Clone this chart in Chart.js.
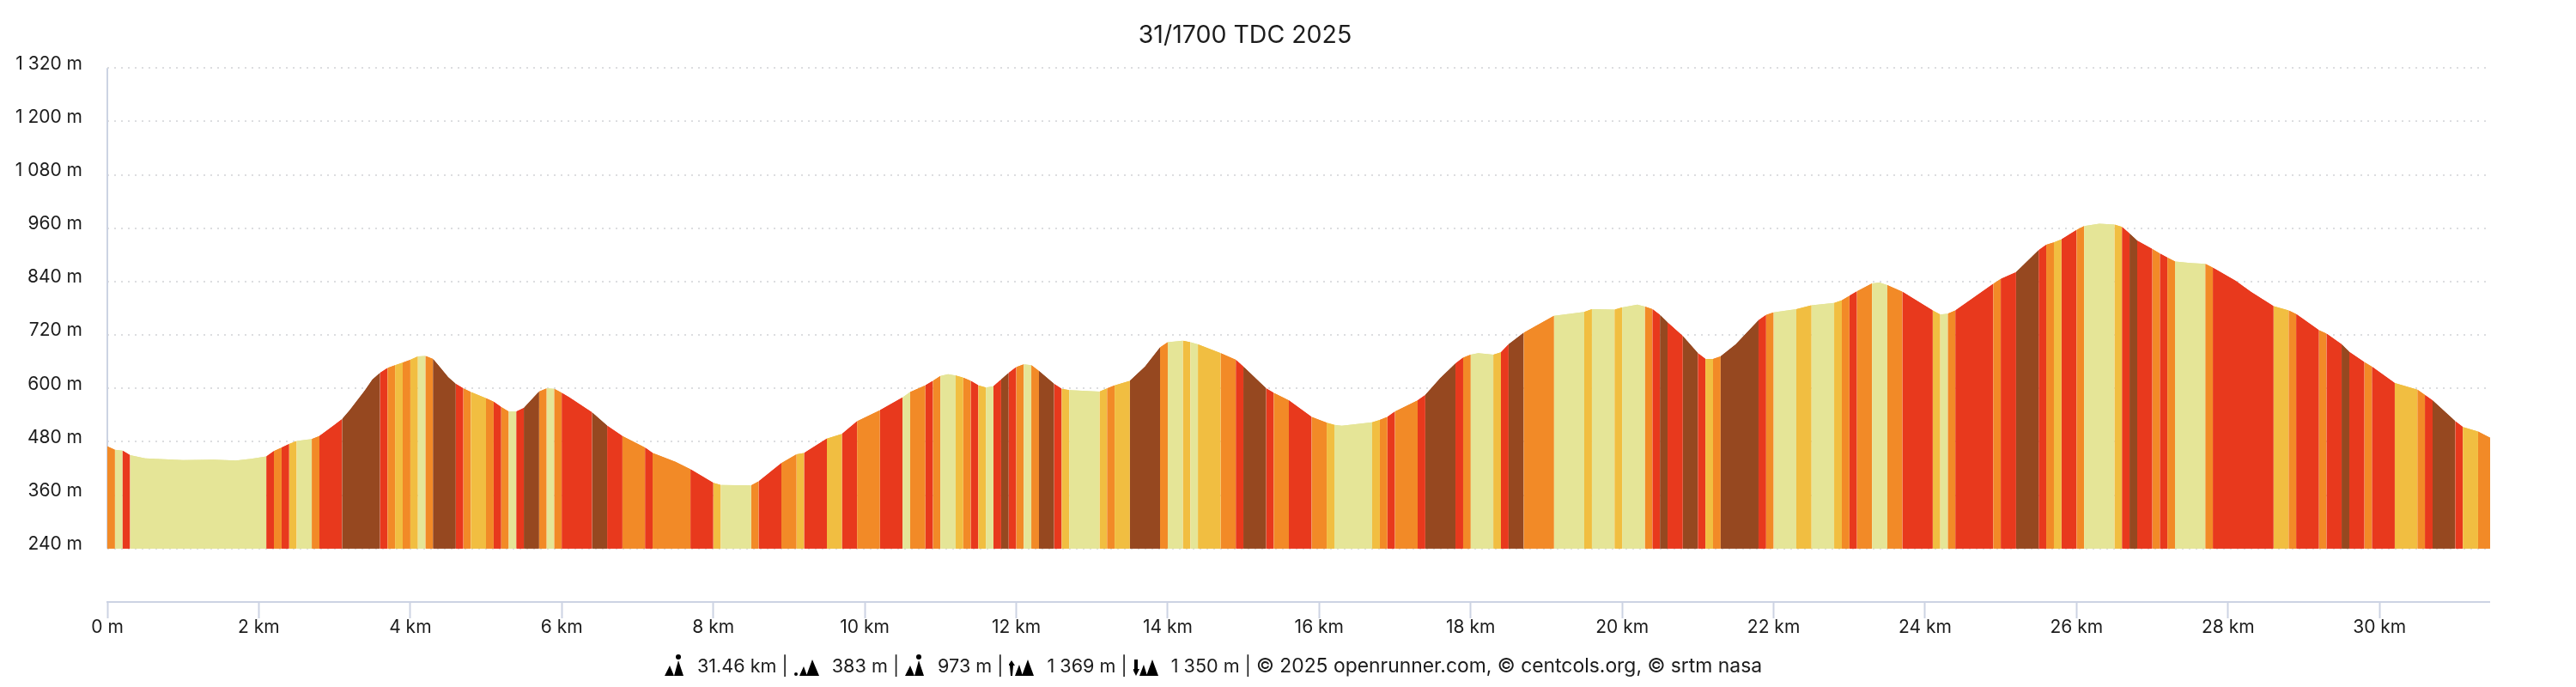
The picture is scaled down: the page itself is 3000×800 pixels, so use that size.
<!DOCTYPE html>
<html>
<head>
<meta charset="utf-8">
<title>31/1700 TDC 2025</title>
<script src="https://cdn.jsdelivr.net/npm/chart.js@4"></script>
<style>
  html, body { margin: 0; background: #fff; }
  #wrap { position: relative; width: 2900px; height: 800px; }
  #footer {
    position: absolute; left: 774px; top: 760px; height: 30px; white-space: nowrap;
    display: flex; align-items: center;
    font: 21.6px Inter, sans-serif; color: #1c1c1c;
  }
  #footer svg { flex: none; fill: #000; margin: 0 14px 0 7px; }
  #footer svg:first-child { margin-left: 0; }
  #footer .credits { font-size: 22.9px; margin-left: 6px; }
</style>
</head>
<body>
<div id="wrap">
  <canvas id="profile"></canvas>
  <div id="footer">
    <svg width="24" height="26" viewBox="0 0 24 26"><circle cx="16" cy="3" r="3"/><path d="M0 25 6 13l5 12zM11 25 16 7l6 18z"/></svg><span>31.46 km |</span>
    <svg width="30" height="26" viewBox="0 0 30 26"><circle cx="2" cy="23" r="2"/><path d="M6 25l5-11 4 11zM14 25 21 6l8 19z"/></svg><span>383 m |</span>
    <svg width="24" height="26" viewBox="0 0 24 26"><circle cx="16" cy="3" r="3"/><path d="M0 25 6 13l5 12zM11 25 16 7l6 18z"/></svg><span>973 m |</span>
    <svg width="30" height="26" viewBox="0 0 30 26"><path d="M3 7 7 13H5l-1 12H2L1 13H-1zM7 25l5-13 4 13zM15 25 22 6l7 19z"/></svg><span>1 369 m |</span>
    <svg width="30" height="26" viewBox="0 0 30 26"><path d="M3 25-1 17h2V6h4v11h2zM7 25l5-13 4 13zM15 25 22 6l7 19z"/></svg><span>1 350 m |</span>
    <span class="credits">© 2025 openrunner.com, © centcols.org, © srtm nasa</span>
  </div>
</div>
<script>
const titleText = '31/1700 TDC 2025';
const yTicks = [240, 360, 480, 600, 720, 840, 960, 1080, 1200, 1320];
const yTickLabels = ['240 m', '360 m', '480 m', '600 m', '720 m', '840 m', '960 m', '1 080 m', '1 200 m', '1 320 m'];
const xTicks = [0, 2, 4, 6, 8, 10, 12, 14, 16, 18, 20, 22, 24, 26, 28, 30];
const xTickLabels = ['0 m', '2 km', '4 km', '6 km', '8 km', '10 km', '12 km', '14 km', '16 km', '18 km', '20 km', '22 km', '24 km', '26 km', '28 km', '30 km'];

// slope class colours, the letter is used in stripes below
const stripeColors = { L: '#e5e597', Y: '#f1be41', O: '#f28a27', R: '#e8391d', B: '#964820' };

const distanceKm = [
  0, 0.1, 0.2, 0.3, 0.5, 1.0, 1.4, 1.7, 1.9, 2.1,
  2.2, 2.3, 2.4, 2.5, 2.7, 2.8, 3.0, 3.1, 3.2, 3.3,
  3.4, 3.5, 3.6, 3.7, 3.8, 3.9, 4.0, 4.1, 4.2, 4.3,
  4.4, 4.5, 4.6, 4.7, 4.8, 5.0, 5.1, 5.2, 5.3, 5.4,
  5.5, 5.7, 5.8, 5.9, 6.0, 6.1, 6.4, 6.6, 6.8, 7.1,
  7.2, 7.5, 7.7, 8.0, 8.1, 8.5, 8.6, 8.9, 9.1, 9.2,
  9.5, 9.7, 9.9, 10.2, 10.5, 10.6, 10.8, 10.9, 11.0, 11.1,
  11.2, 11.3, 11.4, 11.5, 11.6, 11.7, 11.8, 11.9, 12.0, 12.1,
  12.2, 12.3, 12.5, 12.6, 12.7, 13.1, 13.2, 13.3, 13.5, 13.7,
  13.9, 14.0, 14.2, 14.3, 14.4, 14.7, 14.9, 15.0, 15.3, 15.4,
  15.6, 15.9, 16.1, 16.2, 16.3, 16.7, 16.8, 16.9, 17.0, 17.3,
  17.4, 17.6, 17.8, 17.9, 18.0, 18.1, 18.3, 18.4, 18.5, 18.7,
  19.1, 19.5, 19.6, 19.9, 20.0, 20.2, 20.3, 20.4, 20.5, 20.6,
  20.8, 21.0, 21.1, 21.2, 21.3, 21.5, 21.8, 21.9, 22.0, 22.3,
  22.5, 22.8, 22.9, 23.0, 23.1, 23.3, 23.4, 23.5, 23.7, 24.1,
  24.2, 24.3, 24.4, 24.9, 25.0, 25.2, 25.5, 25.6, 25.7, 25.8,
  26.0, 26.1, 26.3, 26.5, 26.6, 26.7, 26.8, 27.0, 27.1, 27.2,
  27.3, 27.5, 27.7, 27.8, 28.1, 28.3, 28.6, 28.8, 28.9, 29.2,
  29.3, 29.5, 29.6, 29.8, 29.9, 30.2, 30.5, 30.6, 30.7, 31.0,
  31.1, 31.3, 31.46
];
const elevationM = [
  470, 462, 460, 450, 443, 439, 440, 438, 442, 447,
  459, 467, 475, 482, 486, 493, 518, 531, 551, 573,
  595, 620, 635, 646, 652, 658, 664, 672, 673, 666,
  646, 625, 610, 600, 592, 578, 570, 558, 548, 548,
  556, 593, 600, 599, 590, 580, 546, 516, 493, 467,
  455, 435, 418, 388, 383, 382, 391, 432, 452, 455,
  487, 498, 526, 551, 580, 592, 607, 617, 628, 632,
  629, 624, 617, 607, 602, 605, 620, 635, 648, 654,
  652, 639, 610, 599, 596, 593, 600, 607, 617, 649,
  692, 704, 707, 704, 699, 679, 664, 649, 600, 590,
  573, 536, 523, 518, 516, 524, 529, 536, 548, 573,
  585, 623, 656, 669, 676, 679, 676, 681, 699, 725,
  763, 772, 778, 777, 782, 788, 784, 778, 765, 748,
  718, 679, 666, 666, 672, 699, 753, 765, 771, 778,
  787, 792, 798, 808, 818, 836, 838, 832, 817, 775,
  766, 768, 775, 835, 846, 861, 911, 923, 928, 935,
  956, 965, 970, 968, 963, 948, 932, 913, 903, 894,
  885, 882, 880, 871, 842, 817, 785, 775, 767, 731,
  723, 699, 682, 659, 649, 612, 597, 585, 573, 526,
  513, 503, 489
];
// colour of the stripe that starts at each point
const stripes = [
  'O', 'L', 'R', 'L', 'L', 'L', 'L', 'L', 'L', 'R',
  'O', 'R', 'Y', 'L', 'O', 'R', 'R', 'B', 'B', 'B',
  'B', 'B', 'R', 'O', 'Y', 'O', 'Y', 'L', 'O', 'B',
  'B', 'B', 'R', 'O', 'Y', 'O', 'R', 'O', 'L', 'R',
  'B', 'O', 'L', 'O', 'R', 'R', 'B', 'R', 'O', 'R',
  'O', 'O', 'R', 'Y', 'L', 'O', 'R', 'O', 'Y', 'R',
  'Y', 'R', 'O', 'R', 'L', 'O', 'R', 'O', 'L', 'L',
  'Y', 'O', 'R', 'Y', 'L', 'R', 'B', 'R', 'O', 'L',
  'O', 'B', 'R', 'Y', 'L', 'Y', 'O', 'Y', 'B', 'B',
  'O', 'L', 'Y', 'L', 'Y', 'O', 'R', 'B', 'R', 'O',
  'R', 'O', 'Y', 'L', 'L', 'Y', 'O', 'R', 'O', 'R',
  'B', 'B', 'R', 'O', 'L', 'L', 'Y', 'R', 'B', 'O',
  'L', 'Y', 'L', 'Y', 'L', 'L', 'O', 'R', 'B', 'R',
  'B', 'R', 'Y', 'O', 'B', 'B', 'R', 'O', 'L', 'Y',
  'L', 'Y', 'O', 'R', 'O', 'L', 'L', 'O', 'R', 'Y',
  'L', 'O', 'R', 'O', 'R', 'B', 'R', 'O', 'Y', 'R',
  'O', 'L', 'L', 'Y', 'R', 'B', 'R', 'O', 'R', 'O',
  'L', 'L', 'O', 'R', 'R', 'R', 'Y', 'O', 'R', 'O',
  'R', 'B', 'R', 'O', 'R', 'Y', 'O', 'R', 'B', 'R',
  'Y', 'O', 'O'
];

const axisColor = '#ccd3e3';
const textColor = '#1c1c1c';
const fontFamily = 'Inter, sans-serif';

// the y axis line stops at 240 m while the scale goes on down to the x axis
const yAxisLine = {
  id: 'yAxisLine',
  beforeDatasetsDraw(chart) {
    const { ctx, scales: { x, y } } = chart;
    ctx.save();
    ctx.strokeStyle = axisColor;
    ctx.lineWidth = 2;
    ctx.beginPath();
    ctx.moveTo(x.left, y.getPixelForValue(yTicks[yTicks.length - 1]));
    ctx.lineTo(x.left, y.getPixelForValue(yTicks[0]));
    ctx.stroke();
    ctx.restore();
  },
};

const points = distanceKm.map((km, i) => ({ x: km, y: elevationM[i] }));
const profileSeries = () => ({
  data: points,
  pointRadius: 0,
  borderWidth: 0,
  borderColor: 'transparent',
  fill: { value: yTicks[0] },
  segment: {
    backgroundColor: (ctx) => stripeColors[stripes[ctx.p0DataIndex]],
  },
});

new Chart(document.getElementById('profile'), {
  type: 'line',
  plugins: [yAxisLine],
  data: {
    // drawn twice so the stripe edges do not let the white through
    datasets: [profileSeries(), profileSeries()],
  },
  options: {
    responsive: true,
    maintainAspectRatio: false,
    animation: false,
    layout: { padding: 0 },
    plugins: {
      legend: { display: false },
      tooltip: { enabled: false },
      title: {
        display: true,
        text: titleText,
        color: textColor,
        font: { family: fontFamily, size: 28.5, weight: 'normal' },
        padding: { top: 24, bottom: 21 },
      },
    },
    scales: {
      x: {
        type: 'linear',
        min: 0,
        max: distanceKm[distanceKm.length - 1],
        afterBuildTicks: (scale) => { scale.ticks = xTicks.map((value) => ({ value })); },
        afterFit: (scale) => { scale.height = 99; },
        border: { color: axisColor, width: 2 },
        grid: { drawOnChartArea: false, tickLength: 19, tickColor: axisColor, tickWidth: 2 },
        ticks: {
          autoSkip: false,
          maxRotation: 0,
          padding: -2,
          color: textColor,
          font: { family: fontFamily, size: 21 },
          callback: (value) => xTickLabels[xTicks.indexOf(value)],
        },
      },
      y: {
        min: 120,
        max: 1320,
        afterBuildTicks: (scale) => { scale.ticks = yTicks.map((value) => ({ value })); },
        afterFit: (scale) => { scale.width = 125; },
        border: { display: false, dash: [2, 6] },
        grid: { drawTicks: false, color: '#dcdde0', lineWidth: 2 },
        ticks: {
          padding: 29,
          labelOffset: -5,
          color: textColor,
          font: { family: fontFamily, size: 21 },
          callback: (value) => yTickLabels[yTicks.indexOf(value)],
        },
      },
    },
  },
});
</script>
</body>
</html>
